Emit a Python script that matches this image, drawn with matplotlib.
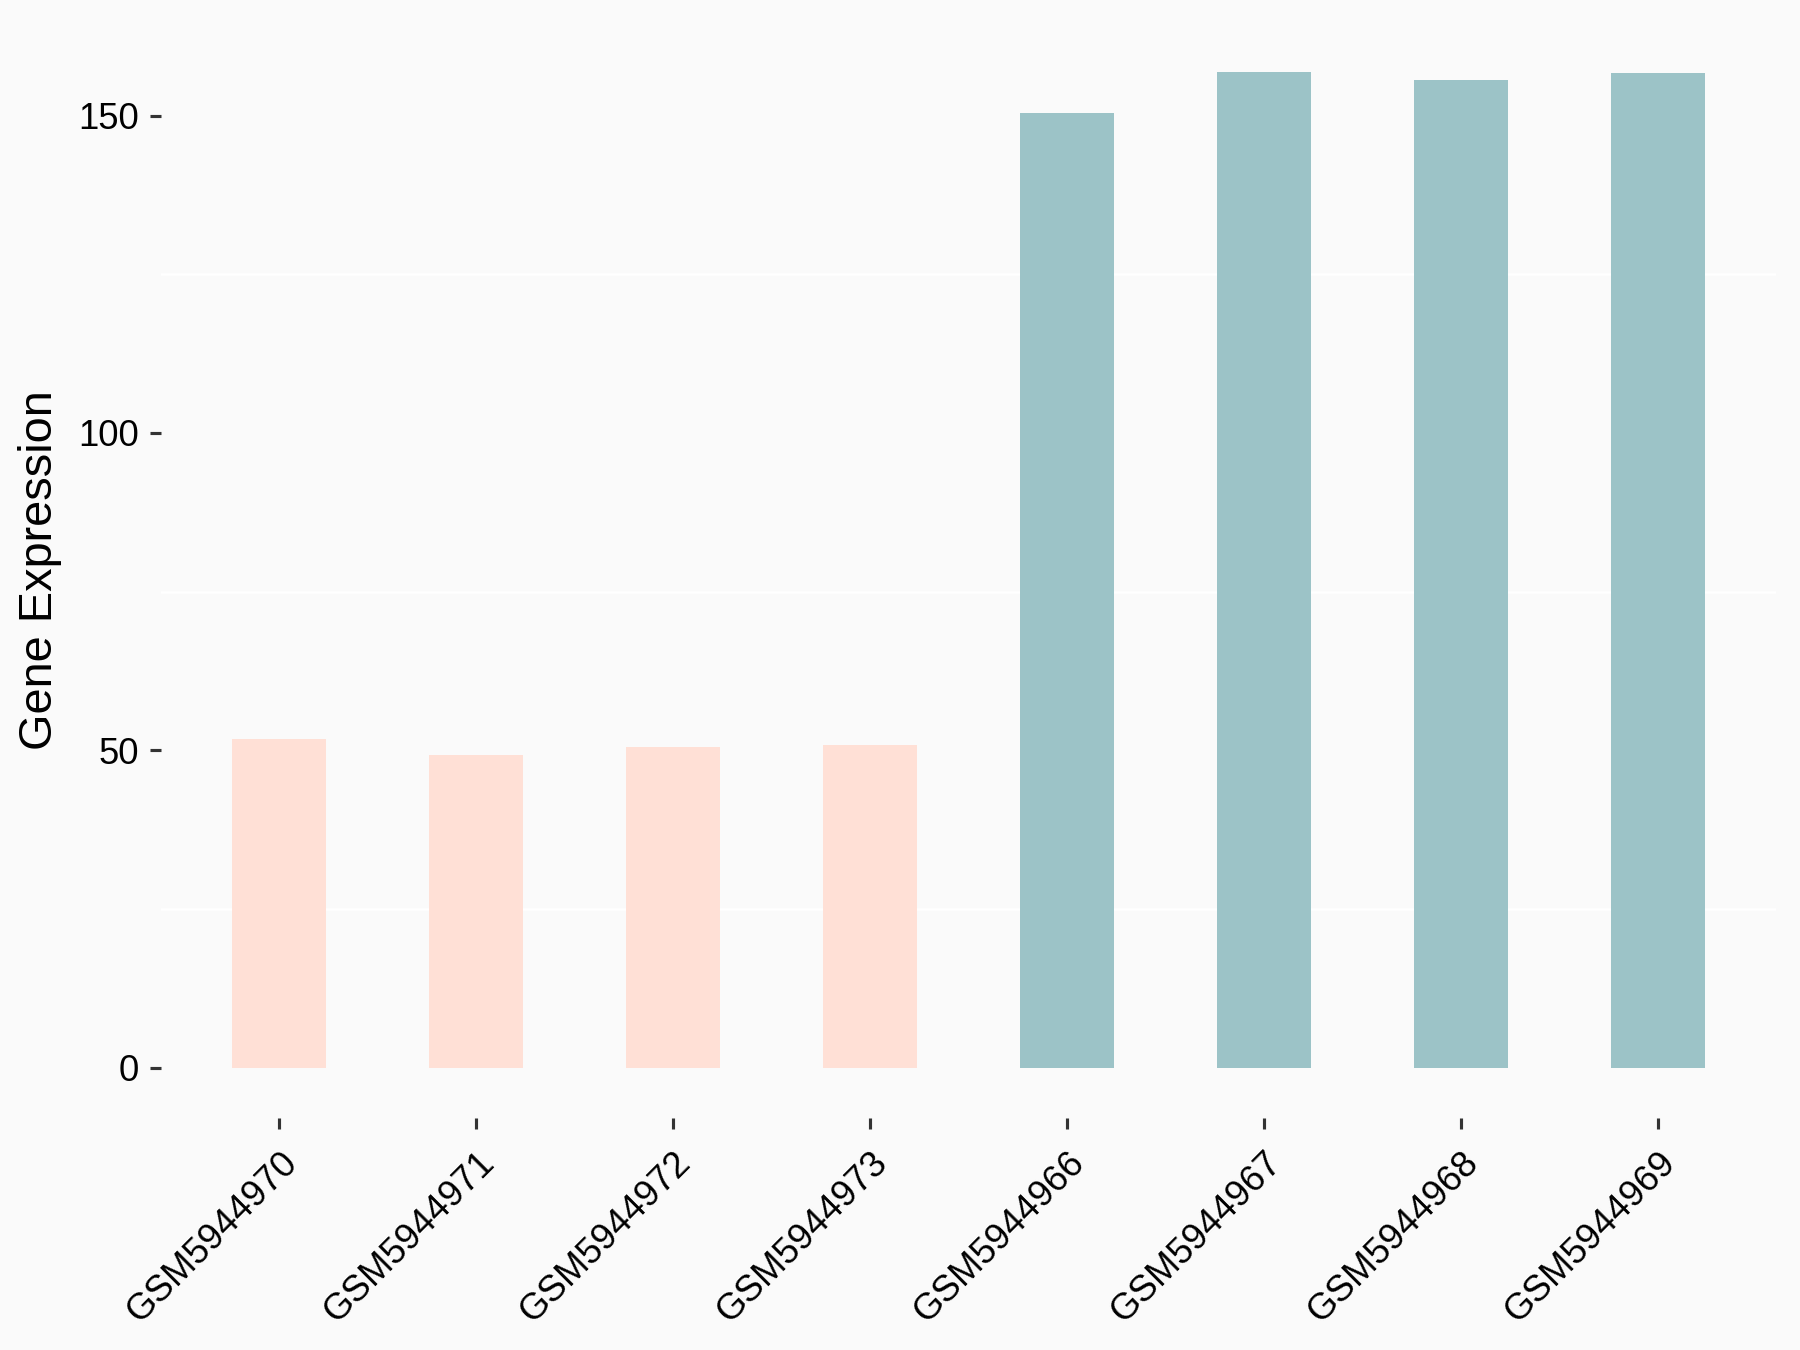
import matplotlib
matplotlib.use("Agg")
import matplotlib.pyplot as plt
import matplotlib.transforms as mtransforms

samples = ["GSM5944970", "GSM5944971", "GSM5944972", "GSM5944973",
           "GSM5944966", "GSM5944967", "GSM5944968", "GSM5944969"]
values = [51.8, 49.3, 50.6, 50.8, 150.4, 156.9, 155.6, 156.7]
groups = ["A", "A", "A", "A", "B", "B", "B", "B"]
group_colors = {"A": "#FFE0D6", "B": "#9CC3C7"}
y_ticks = [0, 50, 100, 150]
y_minor = [25, 75, 125]

plt.rcParams["font.family"] = ["Liberation Sans", "DejaVu Sans"]

fig = plt.figure(figsize=(12, 9), dpi=150)
fig.patch.set_facecolor("#FAFAFA")
ax = fig.add_axes([161/1800, 1 - 1117.5/1350, 1615/1800, (1117.5-22)/1350])
ax.set_facecolor("#FAFAFA")

x = list(range(1, len(samples) + 1))
for yv in y_minor:
    ax.axhline(yv, color="white", lw=1.2, zorder=0)
ax.bar(x, values, width=0.48, color=[group_colors[g] for g in groups], zorder=2)

ymax = max(values)
ax.set_ylim(-0.05 * ymax, ymax * 1.05)
ax.set_xlim(0.4, len(samples) + 0.6)
ax.set_yticks(y_ticks)
ax.set_yticklabels([str(t) for t in y_ticks])
ax.set_xticks(x)
ax.set_xticklabels(samples, rotation=45, ha="right", va="top", rotation_mode="anchor")
offset = mtransforms.ScaledTranslation(12/150, 0/150, fig.dpi_scale_trans)
for lab in ax.get_xticklabels():
    lab.set_transform(lab.get_transform() + offset)

for s in ax.spines.values():
    s.set_visible(False)
ax.tick_params(axis="both", length=5.3, width=1.5, color="#333333",
               labelsize=17.5, labelcolor="black", pad=5.3)
ax.tick_params(axis="x", pad=8)

fig.text(40/1800, 1 - 570/1350, "Gene Expression", rotation=90,
         ha="center", va="center", fontsize=22.5, color="black")

fig.savefig("out.png", dpi=150, facecolor=fig.get_facecolor())
